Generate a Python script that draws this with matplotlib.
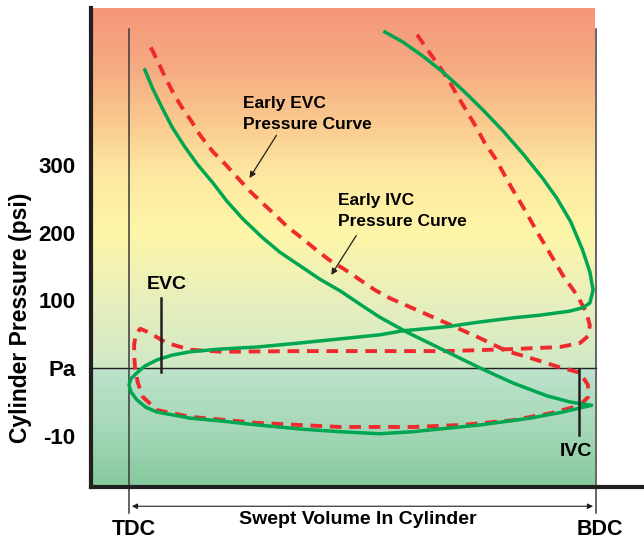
import numpy as np
import matplotlib
matplotlib.use('Agg')
import matplotlib.pyplot as plt

plt.rcParams['font.family'] = ['Liberation Sans', 'DejaVu Sans']
plt.rcParams['font.weight'] = 'bold'

# x = swept volume in % (0 = TDC, 100 = BDC), y = schematic pressure level
# (0 = Pa, 1 = 100, 2 = 200, 3 = 300, -1 = -10 psi)
tick_pos = [3, 2, 1, 0, -1]
tick_labels = ['300', '200', '100', 'Pa', '-10']

# normal cycle (solid green)
green_vol = [54.8, 58.7, 63.0, 67.2, 71.5, 75.8, 80.1, 84.4, 88.6, 91.6, 94.6, 97.1,
             98.7, 99.4, 98.7, 97.2, 94.4, 88.0, 82.2, 75.2, 68.1, 58.7, 53.7, 45.2,
             36.6, 27.4, 19.5, 13.1, 9.2, 6.0, 3.4, 1.7, 0.4, 0.0, 0.4, 1.7, 3.6, 6.0,
             9.2, 13.1, 19.5, 27.4, 36.6, 45.2, 53.7, 60.8, 75.2, 85.9, 92.9, 99.1,
             94.4, 89.5, 82.2, 75.2, 68.1, 59.5, 53.7, 49.5, 45.2, 40.9, 36.6, 32.3,
             28.5, 24.4, 21.0, 18.0, 14.6, 11.8, 9.2, 7.1, 5.1, 3.4]
green_p = [4.96, 4.81, 4.60, 4.37, 4.10, 3.81, 3.50, 3.16, 2.80, 2.51, 2.16, 1.75,
           1.42, 1.15, 0.96, 0.89, 0.84, 0.78, 0.74, 0.68, 0.61, 0.55, 0.49, 0.43,
           0.37, 0.31, 0.28, 0.24, 0.19, 0.12, 0.03, -0.07, -0.16, -0.25, -0.35, -0.47,
           -0.58, -0.65, -0.69, -0.74, -0.78, -0.84, -0.90, -0.94, -0.97, -0.94, -0.84,
           -0.74, -0.65, -0.55, -0.50, -0.41, -0.22, 0.00, 0.24, 0.53, 0.75, 0.94,
           1.14, 1.31, 1.51, 1.71, 1.93, 2.20, 2.46, 2.73, 3.01, 3.28, 3.56, 3.84,
           4.12, 4.40]

# early EVC / early IVC cycle (dashed red)
red_vol = [61.7, 64.0, 66.6, 68.7, 70.5, 72.6, 74.5, 76.2, 78.4, 80.1, 82.2, 84.8,
           87.4, 90.1, 92.9, 95.9, 97.9, 98.7, 98.3, 96.6, 92.3, 82.2, 68.1, 53.7,
           36.6, 20.1, 13.1, 8.1, 4.1, 2.4, 1.5, 1.1, 1.1, 1.3, 1.9, 3.0, 6.0, 13.1,
           27.4, 45.2, 60.8, 71.5, 82.2, 90.8, 96.6, 98.3, 98.3, 96.6, 92.3, 85.9,
           80.9, 75.2, 68.1, 60.2, 55.9, 52.7, 49.5, 46.3, 43.0, 39.8, 37.0, 34.0,
           31.3, 28.5, 25.9, 23.1, 20.6, 18.0, 15.2, 13.3, 11.3, 9.4, 7.7, 6.0, 4.1]
red_p = [4.92, 4.69, 4.44, 4.22, 4.00, 3.76, 3.54, 3.32, 3.10, 2.89, 2.63, 2.33,
         2.01, 1.70, 1.37, 1.08, 0.83, 0.63, 0.47, 0.37, 0.31, 0.28, 0.25, 0.25,
         0.25, 0.24, 0.27, 0.37, 0.53, 0.58, 0.50, 0.35, 0.18, 0.00, -0.22, -0.43,
         -0.62, -0.72, -0.81, -0.87, -0.87, -0.84, -0.77, -0.66, -0.55, -0.43, -0.25,
         -0.07, 0.01, 0.15, 0.25, 0.44, 0.66, 0.90, 1.03, 1.15, 1.30, 1.45, 1.59,
         1.76, 1.92, 2.08, 2.26, 2.44, 2.61, 2.82, 3.01, 3.19, 3.44, 3.65, 3.85,
         4.07, 4.30, 4.55, 4.81]

GREEN = '#00A651'
RED = '#EE2A2E'
INK = '#231F20'

fig = plt.figure(figsize=(6.44, 5.43), dpi=100)
ax = fig.add_axes([91 / 644, 56 / 543, 553 / 644, 479 / 543])
xmin, xmax = -8.14, 110.3
ymin, ymax = -1.756, 5.314
ax.set_xlim(xmin, xmax)
ax.set_ylim(ymin, ymax)

# background: warm gradient above Pa, green gradient below
stops = [ymax, 4.4, 3.6, 2.9, 2.0, 1.0, 0.01, -0.01, -0.9, ymin]
cols = ['#F4967A', '#F6AC82', '#FACB8F', '#FDE7A0', '#FEF6A8', '#E8EFBD',
        '#D0E9C6', '#BEE3CC', '#A5D8B7', '#84C99D']
rgb = np.array([matplotlib.colors.to_rgb(c) for c in cols])
yy = np.linspace(ymax, ymin, 600)
grad = np.stack([np.interp(-yy, -np.array(stops), rgb[:, k]) for k in range(3)], axis=-1)
ax.imshow(grad[:, None, :], extent=[xmin, 99.8, ymin, ymax], aspect='auto',
          interpolation='bilinear', zorder=0)

# reference lines
ax.plot([xmin, 100], [0, 0], color=INK, lw=1.0, zorder=1)
for xv in [0, 100]:
    ax.plot([xv, xv], [5.0, -2.14], color='#3A3A3A', lw=1.1, clip_on=False, zorder=1)

# pressure curves
ax.plot(green_vol, green_p, color=GREEN, lw=2.5, solid_joinstyle='round', zorder=3)
ax.plot(red_vol, red_p, color=RED, lw=2.8, dashes=(3.0, 2.0), zorder=2)

# valve event markers
ax.plot([6.85, 6.85], [1.03, -0.06], color=INK, lw=1.8, zorder=4)
ax.text(8.1, 1.23, 'EVC', ha='center', va='center', fontsize=14, fontweight='bold')
ax.plot([96.4, 96.4], [-0.01, -0.99], color=INK, lw=1.8, zorder=4)
ax.text(95.7, -1.23, 'IVC', ha='center', va='center', fontsize=14, fontweight='bold')

# callouts
ax.text(24.4, 3.75, 'Early EVC\nPressure Curve', ha='left', va='center', fontsize=12.5,
        fontweight='bold', linespacing=1.5)
ax.annotate('', xy=(25.5, 2.77), xytext=(31.9, 3.47),
            arrowprops=dict(arrowstyle='-|>', color=INK, lw=0.9, mutation_scale=9))
ax.text(44.8, 2.32, 'Early IVC\nPressure Curve', ha='left', va='center', fontsize=12.5,
        fontweight='bold', linespacing=1.5)
ax.annotate('', xy=(43.0, 1.34), xytext=(49.0, 1.99),
            arrowprops=dict(arrowstyle='-|>', color=INK, lw=0.9, mutation_scale=9))

# swept volume arrow and labels
ax.annotate('', xy=(0.6, -2.04), xytext=(99.4, -2.04), annotation_clip=False,
            arrowprops=dict(arrowstyle='<|-|>', color=INK, lw=0.8, mutation_scale=8,
                            shrinkA=0, shrinkB=0))
ax.text(49.0, -2.23, 'Swept Volume In Cylinder', ha='center', va='center', fontsize=14,
        fontweight='bold', clip_on=False)
ax.text(1.1, -2.39, 'TDC', ha='center', va='center', fontsize=15.5, fontweight='bold',
        clip_on=False)
ax.text(100.9, -2.39, 'BDC', ha='center', va='center', fontsize=15.5, fontweight='bold',
        clip_on=False)

# axes styling
for side in ['top', 'right']:
    ax.spines[side].set_visible(False)
for side in ['left', 'bottom']:
    ax.spines[side].set_linewidth(3)
    ax.spines[side].set_color(INK)
    ax.spines[side].set_zorder(5)
ax.set_xticks([])
ax.set_yticks(tick_pos)
ax.set_yticklabels(tick_labels, fontsize=16, fontweight='bold')
ax.tick_params(axis='y', length=0, pad=11)
ax.set_ylabel('Cylinder Pressure (psi)', fontsize=16.5, fontweight='bold')
ax.yaxis.set_label_coords(-0.107, 0.354)

fig.savefig('out.png', dpi=100)
